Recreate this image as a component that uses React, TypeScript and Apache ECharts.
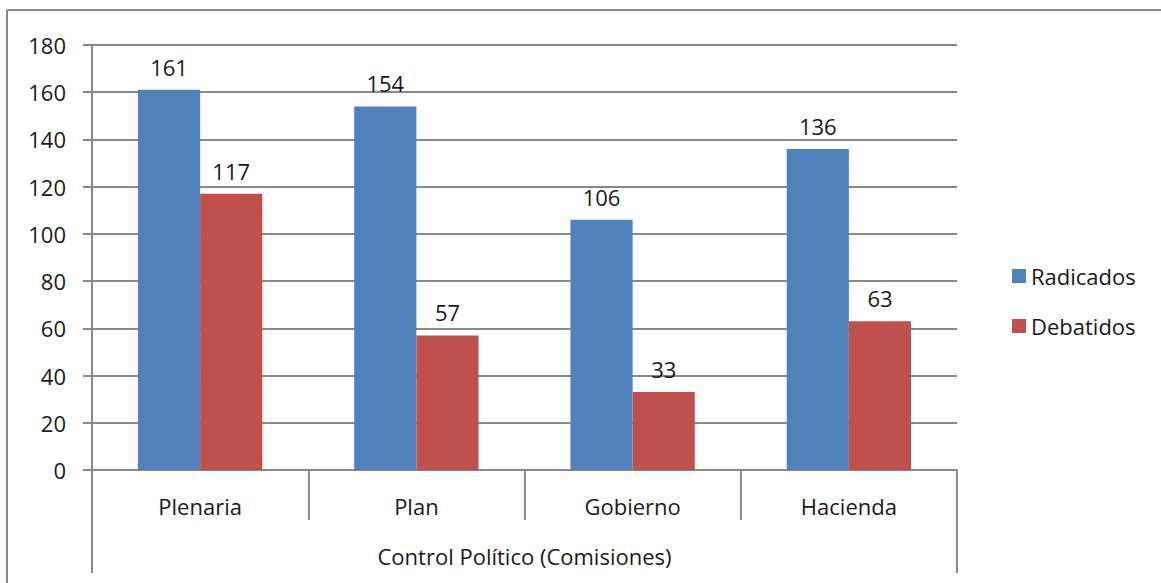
import React, { useEffect, useRef } from "react";
import * as echarts from "echarts";

const categories = ["Plenaria", "Plan", "Gobierno", "Hacienda"];
const groupLabel = ["Control Político (Comisiones)"];
const radicados = [161, 154, 106, 136];
const debatidos = [117, 57, 33, 63];
const seriesNames = ["Radicados", "Debatidos"];

const FONT = "'Open Sans', Lato, sans-serif";
const FS = 22;
const GRAY = "#898989";
const TXT = "#1a1a1a";

export default function App() {
  const ref = useRef<HTMLDivElement>(null);
  useEffect(() => {
    if (!ref.current) return;
    const chart = echarts.init(ref.current, null, { renderer: "svg" });
    const labelStyle = {
      show: true,
      position: "top" as const,
      distance: 12,
      fontSize: FS,
      fontFamily: FONT,
      color: TXT,
    };
    chart.setOption({
      animation: false,
      textStyle: { fontFamily: FONT },
      grid: { left: 92, right: 204, top: 45, bottom: 113, containLabel: false },
      legend: {
        orient: "vertical",
        left: 1007,
        top: 260,
        itemWidth: 14,
        itemHeight: 14,
        itemGap: 28,
        icon: "rect",
        textStyle: { fontSize: FS, fontFamily: FONT, color: TXT, padding: [0, 0, 0, 0] },
        data: seriesNames,
      },
      xAxis: [
        {
          type: "category",
          data: categories,
          position: "bottom",
          axisLine: { show: true, lineStyle: { color: GRAY, width: 2 } },
          axisTick: { show: true, length: 50, lineStyle: { color: GRAY, width: 2 } },
          axisLabel: { fontSize: FS, fontFamily: FONT, color: TXT, margin: 25 },
          splitLine: { show: false },
        },
        {
          type: "category",
          data: groupLabel,
          position: "bottom",
          axisLine: { show: false },
          axisTick: { show: true, length: 103, lineStyle: { color: GRAY, width: 2 } },
          axisLabel: { fontSize: FS, fontFamily: FONT, color: TXT, margin: 75 },
          splitLine: { show: false },
        },
      ],
      yAxis: {
        type: "value",
        min: 0,
        max: 180,
        interval: 20,
        axisLine: { show: true, lineStyle: { color: GRAY, width: 2 } },
        axisTick: { show: true, length: 9, lineStyle: { color: GRAY, width: 2 } },
        axisLabel: { fontSize: FS, fontFamily: FONT, color: TXT, margin: 26 },
        splitLine: { show: true, lineStyle: { color: GRAY, width: 2 } },
      },
      series: [
        {
          name: seriesNames[0],
          type: "bar",
          data: radicados,
          xAxisIndex: 0,
          barGap: "0%",
          barCategoryGap: "42.5%",
          itemStyle: { color: "#4F81BD" },
          label: labelStyle,
        },
        {
          name: seriesNames[1],
          type: "bar",
          data: debatidos,
          xAxisIndex: 0,
          barGap: "0%",
          barCategoryGap: "42.5%",
          itemStyle: { color: "#C0504D" },
          label: labelStyle,
        },
      ],
      graphic: [
        {
          type: "line",
          shape: { x1: 7, y1: 10, x2: 1161, y2: 10 },
          style: { stroke: GRAY, lineWidth: 2 },
        },
        {
          type: "line",
          shape: { x1: 7, y1: 10, x2: 7, y2: 583 },
          style: { stroke: GRAY, lineWidth: 2 },
        },
      ],
    });
    return () => chart.dispose();
  }, []);
  return (
    <div
      ref={ref}
      style={{ position: "absolute", left: 0, top: 0, width: 1161, height: 583, background: "#fff" }}
    />
  );
}
